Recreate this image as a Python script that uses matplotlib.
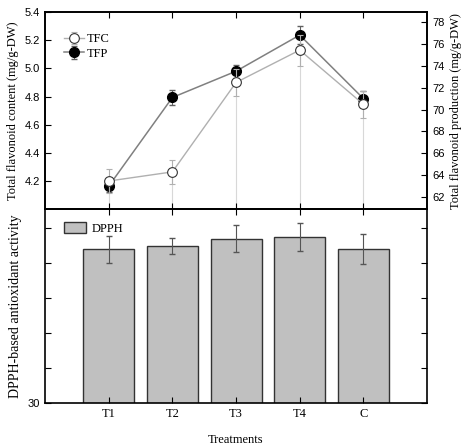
import matplotlib

matplotlib.use("Agg")
import matplotlib.pyplot as plt
from matplotlib.ticker import FixedLocator

treatments = ["T1", "T2", "T3", "T4", "C"]
tfc = [4.20, 4.265, 4.90, 5.13, 4.745]
tfc_err = [0.085, 0.085, 0.095, 0.11, 0.095]
tfp = [63.0, 71.1, 73.5, 76.8, 71.0]
tfp_err = [0.5, 0.7, 0.6, 0.8, 0.7]
dpph = [74.0, 74.9, 77.1, 77.6, 74.1]
dpph_err = [3.8, 2.3, 3.9, 4.0, 4.3]

serif = "Liberation Serif"
sans = "Liberation Sans"
x = list(range(1, len(treatments) + 1))

fig = plt.figure(figsize=(4.74, 4.47), dpi=100)
ax1 = fig.add_axes([0.095, 0.532, 0.806, 0.441])
ax2 = fig.add_axes([0.095, 0.098, 0.806, 0.434])
ax1r = ax1.twinx()

# top panel: TFC (left) and TFP (right)
ax1.set_ylim(4.0, 5.4)
ax1r.set_ylim(60.9, 78.9)
ax1.set_xlim(0, 6)
ax1.vlines(x, 4.0, tfc, color="#d8d8d8", lw=0.8, zorder=1)
ax1.errorbar(x, tfc, yerr=tfc_err, color="#b0b0b0", ecolor="#b0b0b0", lw=1,
             elinewidth=0.8, capsize=2, marker="o", ms=7, mfc="white",
             mec="#333333", mew=0.8, zorder=3, label="TFC")
ax1r.errorbar(x, tfp, yerr=tfp_err, color="#808080", ecolor="#606060", lw=1.1,
              elinewidth=0.8, capsize=2, marker="o", ms=7, mfc="black",
              mec="black", zorder=3, label="TFP")
ax1.set_zorder(ax1r.get_zorder() + 1)
ax1.patch.set_visible(False)

ax1.yaxis.set_major_locator(FixedLocator([4.2, 4.4, 4.6, 4.8, 5.0, 5.2, 5.4]))
ax1r.yaxis.set_major_locator(FixedLocator(list(range(62, 79, 2))))
ax1.set_xticks(x)
ax1.set_xticklabels([])
ax1.tick_params(direction="in", top=True, length=4, labelsize=8)
ax1r.tick_params(direction="in", length=4, labelsize=8)
for lab in ax1.get_yticklabels() + ax1r.get_yticklabels():
    lab.set_family(sans)
ax1.set_ylabel("Total flavonoid content (mg/g-DW)", family=serif, fontsize=9)
ax1r.set_ylabel("Total flavonoid production (mg/g-DW)", family=serif, fontsize=9)

h1, l1 = ax1.get_legend_handles_labels()
h2, l2 = ax1r.get_legend_handles_labels()
ax1.legend(h1 + h2, l1 + l2, loc="upper left", bbox_to_anchor=(0.02, 0.95),
           frameon=False, prop={"family": serif, "size": 9},
           handlelength=1.6, handletextpad=0.2, labelspacing=0.2)

# bottom panel: DPPH bars
ax2.bar(x, dpph, width=0.8, color="#c0c0c0", edgecolor="#333333", lw=1,
        yerr=dpph_err, ecolor="#555555", capsize=2.5,
        error_kw={"elinewidth": 0.8}, label="DPPH")
ax2.set_xlim(0, 6)
ax2.set_ylim(30, 85.5)
ax2.yaxis.set_major_locator(FixedLocator([30, 40, 50, 60, 70, 80]))
ax2.set_yticklabels(["30", "", "", "", "", ""])
ax2.tick_params(direction="in", right=True, top=True, length=4, labelsize=8)
ax2.set_xticks(x)
ax2.set_xticklabels(treatments, family=serif, fontsize=9)
for lab in ax2.get_yticklabels():
    lab.set_family(sans)
ax2.set_ylabel("DPPH-based antioxidant activity", family=serif, fontsize=10)
ax2.set_xlabel("Treatments", family=serif, fontsize=9, labelpad=10)
ax2.legend(loc="upper left", bbox_to_anchor=(0.02, 0.99), frameon=False,
           prop={"family": serif, "size": 9}, handlelength=1.8,
           handleheight=0.9, handletextpad=0.4)

for ax in (ax1, ax1r, ax2):
    for s in ax.spines.values():
        s.set_linewidth(1.2)

fig.savefig("out.png", dpi=100)
